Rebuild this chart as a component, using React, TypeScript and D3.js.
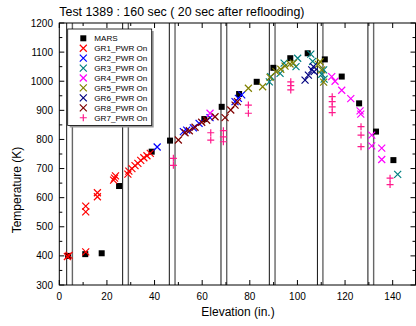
import React, { useEffect, useRef } from "react";
import * as d3 from "d3";

// [elevation (in.), temperature (K)]
const mars = [
  [3.7, 400], [10.9, 406], [17.8, 409], [25.1, 640], [38.8, 758], [46.5, 796],
  [60.9, 870], [68.2, 912], [75.5, 956], [82.9, 998], [89.9, 1046], [97, 1079],
  [104.3, 1096], [111.5, 1075], [118.6, 1016], [125.9, 924], [133, 827], [140.3, 729],
];
const gr1 = [
  [3.4, 398], [4.1, 402], [11.1, 414], [11.1, 571], [11.1, 551], [16.0, 617], [16.0, 603],
  [22.8, 660], [23.2, 667], [23.6, 675], [28.8, 681], [29.2, 691], [30.5, 700], [31.8, 710],
  [33.0, 718], [34.2, 728], [35.5, 737], [36.8, 744], [38.2, 752],
];
const gr2 = [
  [41.1, 774], [52.1, 827], [53.5, 832], [56.3, 840], [58.7, 855], [63.3, 875],
  [73.8, 930], [75.2, 941], [76.6, 953],
];
const gr3 = [
  [88.2, 998], [88.8, 1016], [92.7, 1027], [94.4, 1062], [99.4, 1050], [100.1, 1079],
  [105.6, 1093], [106.4, 1068], [110.2, 1024], [111.0, 1039], [111.2, 1007], [142.1, 680],
];
const gr4 = [
  [63.3, 890], [114.4, 1016], [115.8, 1000], [118.6, 969], [122.4, 940], [126.3, 898],
  [126.6, 887], [131.2, 815], [131.2, 778], [135.4, 770], [135.4, 731],
];
const gr5 = [
  [79.4, 976], [85.4, 981], [88.5, 1013], [91.0, 1033], [93.0, 1041], [94.8, 1052],
  [96.9, 1059], [98.3, 1062], [108.8, 1058], [109.5, 1067], [110.2, 1039], [111.0, 997],
];
const gr6 = [
  [103.2, 1004], [104.6, 1021], [106.0, 1039], [106.7, 1050], [107.0, 1033],
];
const gr8 = [
  [50.0, 798], [52.8, 823], [54.6, 830], [57.0, 842], [59.8, 859], [61.9, 866],
  [65.4, 878], [69.6, 875], [72.0, 901], [73.8, 918], [74.8, 930],
];
const gr7 = [
  [47.9, 735], [47.9, 711], [63.6, 823], [63.6, 798], [68.9, 830], [68.9, 809], [68.9, 792],
  [79.4, 918], [79.4, 890], [97.2, 998], [97.2, 985], [97.2, 970],
  [114.6, 947], [114.6, 930], [114.6, 912], [114.6, 892],
  [126.7, 844], [126.7, 815], [126.7, 775], [138.9, 667], [138.9, 645],
];

// spacer grid positions (in.)
const spacers = [
  [3.1, 5.5], [26.6, 29.0], [46.2, 48.6], [67.9, 70.3], [88.2, 90.6], [108.4, 110.7], [129.6, 132.0],
];

const series = [
  { name: "MARS", data: mars, color: "#000000", shape: "square" },
  { name: "GR1_PWR On", data: gr1, color: "#ff0000", shape: "x" },
  { name: "GR2_PWR On", data: gr2, color: "#0000ff", shape: "x" },
  { name: "GR3_PWR On", data: gr3, color: "#008080", shape: "x" },
  { name: "GR4_PWR On", data: gr4, color: "#ff00ff", shape: "x" },
  { name: "GR5_PWR On", data: gr5, color: "#808000", shape: "x" },
  { name: "GR6_PWR On", data: gr6, color: "#000080", shape: "x" },
  { name: "GR8_PWR On", data: gr8, color: "#800000", shape: "x" },
  { name: "GR7_PWR On", data: gr7, color: "#ff1a8c", shape: "plus" },
];

const xTicks = d3.range(0, 151, 10);
const yTicks = d3.range(300, 1201, 50);

const drawMarker = (g, shape, color, x, y) => {
  if (shape === "square") {
    g.append("rect")
      .attr("x", x - 3).attr("y", y - 3)
      .attr("width", 6).attr("height", 6)
      .attr("fill", color);
  } else if (shape === "x") {
    const s = 3.5;
    g.append("path")
      .attr("d", `M${x - s},${y - s}L${x + s},${y + s}M${x - s},${y + s}L${x + s},${y - s}`)
      .attr("stroke", color).attr("stroke-width", 1.2).attr("fill", "none");
  } else {
    const s = 3.5;
    g.append("path")
      .attr("d", `M${x - s},${y}L${x + s},${y}M${x},${y - s}L${x},${y + s}`)
      .attr("stroke", color).attr("stroke-width", 1.2).attr("fill", "none");
  }
};

export default function App() {
  const ref = useRef(null);

  useEffect(() => {
    const svg = d3.select(ref.current);
    svg.selectAll("*").remove();

    const left = 59.3, right = 415.5, top = 23, bottom = 285;
    const x = d3.scaleLinear().domain([0, 150]).range([left, 416.5]);
    const y = d3.scaleLinear().domain([300, 1200]).range([bottom, top]);
    const font = "Arial, 'Liberation Sans', sans-serif";

    svg.append("rect").attr("width", 416).attr("height", 326).attr("fill", "white");

    // title
    svg.append("text")
      .attr("x", left).attr("y", 15.5)
      .attr("font-family", font).attr("font-size", 12.4)
      .text("Test 1389 : 160 sec ( 20 sec after reflooding)");

    // spacer grids
    spacers.forEach(([a, b]) => {
      svg.append("line")
        .attr("x1", x(a)).attr("x2", x(a)).attr("y1", top).attr("y2", bottom)
        .attr("stroke", "#111").attr("stroke-width", 1);
      svg.append("line")
        .attr("x1", x(b)).attr("x2", x(b)).attr("y1", top).attr("y2", bottom)
        .attr("stroke", "#666").attr("stroke-width", 1.4);
    });

    // frame
    svg.append("rect")
      .attr("x", left).attr("y", top)
      .attr("width", right - left).attr("height", bottom - top)
      .attr("fill", "none").attr("stroke", "black").attr("stroke-width", 1);

    // ticks
    xTicks.forEach((t) => {
      const len = t % 20 === 0 ? 5 : 3;
      const px = x(t);
      if (px > right) return;
      svg.append("line").attr("x1", px).attr("x2", px).attr("y1", bottom).attr("y2", bottom - len)
        .attr("stroke", "black");
      svg.append("line").attr("x1", px).attr("x2", px).attr("y1", top).attr("y2", top + len)
        .attr("stroke", "black");
      if (t % 20 === 0) {
        svg.append("text")
          .attr("x", px).attr("y", 300)
          .attr("text-anchor", "middle")
          .attr("font-family", font).attr("font-size", 10)
          .text(t);
      }
    });
    yTicks.forEach((t) => {
      const len = t % 100 === 0 ? 5 : 3;
      const py = y(t);
      svg.append("line").attr("x1", left).attr("x2", left + len).attr("y1", py).attr("y2", py)
        .attr("stroke", "black");
      svg.append("line").attr("x1", right).attr("x2", right - len).attr("y1", py).attr("y2", py)
        .attr("stroke", "black");
      if (t % 100 === 0) {
        svg.append("text")
          .attr("x", 53).attr("y", py + 3.5)
          .attr("text-anchor", "end")
          .attr("font-family", font).attr("font-size", 10)
          .text(t);
      }
    });

    // axis labels
    svg.append("text")
      .attr("x", 238).attr("y", 316)
      .attr("text-anchor", "middle")
      .attr("font-family", font).attr("font-size", 12)
      .text("Elevation (in.)");
    svg.append("text")
      .attr("transform", "translate(21,190) rotate(-90)")
      .attr("text-anchor", "middle")
      .attr("font-family", font).attr("font-size", 12)
      .text("Temperature (K)");

    // points
    const pts = svg.append("g");
    series.forEach((s) => {
      s.data.forEach(([ex, t]) => drawMarker(pts, s.shape, s.color, x(ex), y(t)));
    });

    // legend
    const lx = 67.7, ly = 29, lw = 84, lh = 96.5;
    svg.append("rect").attr("x", lx + 2).attr("y", ly + 2).attr("width", lw).attr("height", lh)
      .attr("fill", "#999");
    svg.append("rect").attr("x", lx).attr("y", ly).attr("width", lw).attr("height", lh)
      .attr("fill", "white").attr("stroke", "black").attr("stroke-width", 0.8);
    series.forEach((s, i) => {
      const yy = 38.3 + i * 9.93;
      drawMarker(svg, s.shape, s.color, 83.3, yy);
      svg.append("text")
        .attr("x", 94.3).attr("y", yy + 3)
        .attr("font-family", font).attr("font-size", 8.1)
        .text(s.name);
    });
  }, []);

  return (
    <div style={{ width: 416, height: 326 }}>
      <svg ref={ref} width={416} height={326} style={{ position: "absolute", left: 0, top: 0 }} />
    </div>
  );
}
